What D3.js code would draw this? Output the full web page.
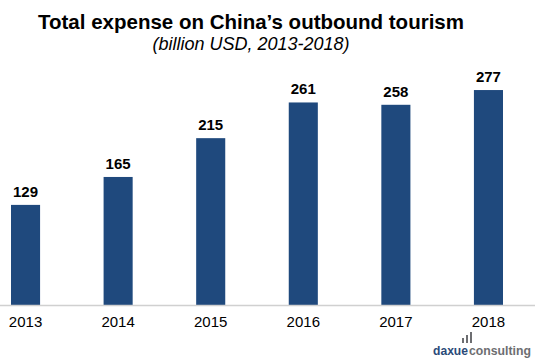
<!DOCTYPE html>
<html>
<head>
<meta charset="utf-8">
<script src="https://cdn.jsdelivr.net/npm/d3@7"></script>
<style>
  body { margin: 0; background: #fff; }
  text { font-family: "Liberation Sans", Arial, sans-serif; }
</style>
</head>
<body>
<div id="chart"></div>
<script>
var years = ["2013", "2014", "2015", "2016", "2017", "2018"]
var expense = [129, 165, 215, 261, 258, 277]
var title = "Total expense on China\u2019s outbound tourism"
var subtitle = "(billion USD, 2013-2018)"

function draw_chart(container_name) {
  var width = 536,
      height = 363,
      baseline = 305

  var svg = d3.select(container_name)
    .append("svg")
    .attr("width", width)
    .attr("height", height)

  var x = d3.scaleBand()
    .domain(years)
    .range([-20.75, 534.75])
    .paddingInner(0.686)
    .paddingOuter(0.343)

  var y = d3.scaleLinear()
    .domain([0, 300])
    .range([baseline, baseline - 0.776 * 300])

  var data = years.map(function (d, i) { return { year: d, value: expense[i] } })

  // bars
  svg.selectAll("rect.bar")
    .data(data)
    .enter().append("rect")
    .attr("class", "bar")
    .attr("x", function (d) { return x(d.year) })
    .attr("width", x.bandwidth())
    .attr("y", function (d) { return y(d.value) })
    .attr("height", function (d) { return y(0) - y(d.value) })
    .attr("fill", "#1f497d")

  // value labels
  svg.selectAll("text.val")
    .data(data)
    .enter().append("text")
    .attr("class", "val")
    .attr("x", function (d) { return x(d.year) + x.bandwidth() / 2 })
    .attr("y", function (d) { return y(d.value) - 8 })
    .attr("text-anchor", "middle")
    .style("font-size", "15px")
    .style("font-weight", "bold")
    .attr("fill", "#000")
    .text(function (d) { return d.value })

  // x axis
  var xAxis = svg.append("g")
    .attr("transform", "translate(0," + baseline + ")")
    .call(d3.axisBottom(x).tickSize(0).tickPadding(11))
  xAxis.select(".domain").remove()
  xAxis.selectAll("text")
    .style("font-size", "15px")
    .style("font-family", "'Liberation Sans', Arial, sans-serif")
    .attr("fill", "#000")
  svg.append("line")
    .attr("x1", 0).attr("x2", 535)
    .attr("y1", baseline + 0.5).attr("y2", baseline + 0.5)
    .attr("stroke", "#d0d0d0")
    .attr("stroke-width", 1.5)

  // titles
  svg.append("text")
    .attr("x", 251).attr("y", 29)
    .attr("text-anchor", "middle")
    .style("font-size", "20.5px")
    .style("font-weight", "bold")
    .text(title)
  svg.append("text")
    .attr("x", 251).attr("y", 50)
    .attr("text-anchor", "middle")
    .style("font-size", "18px")
    .style("font-style", "italic")
    .text(subtitle)

  // logo
  var logo = svg.append("g").attr("transform", "translate(433,355)")
  logo.append("text")
    .attr("x", 0)
    .attr("textLength", 35)
    .attr("lengthAdjust", "spacingAndGlyphs")
    .style("font-size", "13.5px")
    .style("font-weight", "bold")
    .attr("fill", "#2b4a78")
    .text("daxue")
  logo.append("text")
    .attr("x", 36)
    .attr("textLength", 62)
    .attr("lengthAdjust", "spacingAndGlyphs")
    .style("font-size", "13.5px")
    .style("font-weight", "bold")
    .attr("fill", "#6d6e71")
    .text("consulting")
  var iconBars = [5, 8, 11]
  logo.selectAll("rect.icon")
    .data(iconBars)
    .enter().append("rect")
    .attr("class", "icon")
    .attr("x", function (d, i) { return 29 + i * 4 })
    .attr("y", function (d) { return -12 - d })
    .attr("width", 2)
    .attr("height", function (d) { return d })
    .attr("fill", "#6d6e71")
}

draw_chart("#chart")
</script>
</body>
</html>
